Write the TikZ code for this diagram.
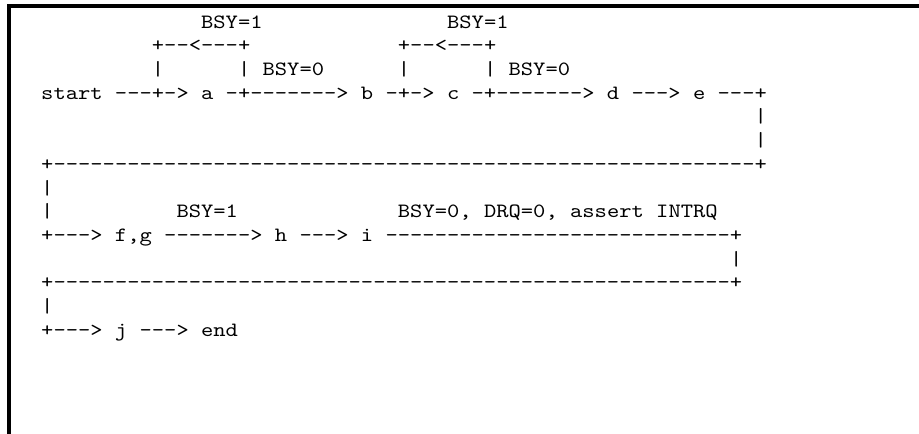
\documentclass[tikz,border=0pt]{standalone}
\usepackage{fontspec}
\newfontfamily\asciifont{lmmono10-regular.otf}[Ligatures=TeXOff]
\def\dashten{----------}
\tikzset{
    ascii/.style={
        font=\asciifont\fontsize{20.3}{23.7}\selectfont\frenchspacing,
        anchor=base west, inner sep=0pt, xscale=1.154
    },
    framebar/.style={
        fill=black, draw=none
    }
}
\begin{document}
\begin{tikzpicture}[x=1pt, y=-1pt]
    \useasboundingbox (0,0) rectangle (919,434);
    % khung
    \path[framebar] (7,4) rectangle (919,8);
    \path[framebar] (7,4) rectangle (11,434);
    \begin{scope}[shift={(41,28)}, x=12.3pt, y=-23.72pt, nodes={ascii}]
        % 1. HAI VONG BSY=1
        \node (bsyA) at (13,0) {BSY=1};
        \node (bsyB) at (33,0) {BSY=1};
        \node (loopA) at (9,1) {+--<---+};
        \node (loopB) at (29,1) {+--<---+};
        \node (barA) at (9,2) {|};
        \node (idleA) at (16,2) {| BSY=0};
        \node (barB) at (29,2) {|};
        \node (idleB) at (36,2) {| BSY=0};
        \node (start) at (0,3) {start ---+-> a -+-------> b -+-> c -+-------> d ---> e ---+};
        % 2. QUAY VE DONG DUOI
        \node (downA) at (58,4) {|};
        \node (downB) at (58,5) {|};
        \node (backA) at (0,6) {+\dashten\dashten\dashten\dashten\dashten-------+};
        \node (upA) at (0,7) {|};
        \node (upB) at (0,8) {|};
        \node (bsyC) at (11,8) {BSY=1};
        \node (intrq) at (29,8) {BSY=0, DRQ=0, assert INTRQ};
        \node (fg) at (0,9) {+---> f,g -------> h ---> i \dashten\dashten--------+};
        \node (downC) at (56,10) {|};
        \node (backB) at (0,11) {+\dashten\dashten\dashten\dashten\dashten-----+};
        \node (upC) at (0,12) {|};
        % 3. KET THUC
        \node (finish) at (0,13) {+---> j ---> end};
    \end{scope}
\end{tikzpicture}
\end{document}
